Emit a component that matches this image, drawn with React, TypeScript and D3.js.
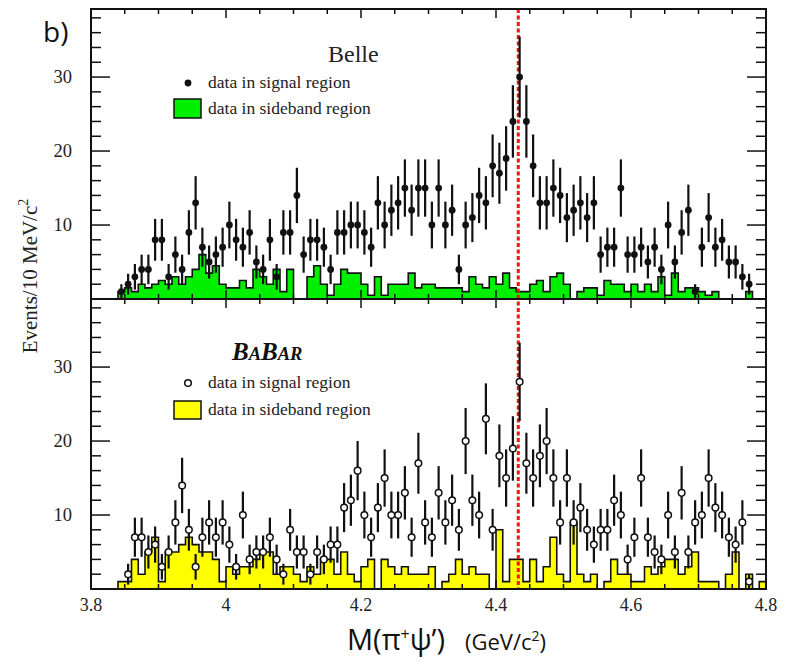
import * as d3 from "d3";
import React from "react";

// 10 MeV bins, bin i covers [3.80 + 0.01*i, 3.81 + 0.01*i)
const binStart = 3.8;
const binWidth = 0.01;

// Belle, events per bin in the signal region
const belleSignal = [
  0, 0, 0, 0, 1, 2, 3, 4, 4, 8,
  8, 3, 6, 4, 9, 13, 7, 5, 6, 7,
  10, 8, 7, 9, 5, 4, 8, 3, 9, 9,
  14, 6, 8, 8, 7, 4, 9, 9, 10, 10,
  9, 7, 13, 10, 12, 13, 15, 12, 15, 15,
  10, 15, 10, 12, 4, 10, 11, 14, 13, 18,
  17, 19, 24, 30, 24, 18, 13, 13, 15, 14,
  11, 12, 13, 11, 13, 6, 7, 7, 15, 6,
  6, 7, 5, 7, 4, 10, 5, 9, 12, 1,
  7, 11, 7, 8, 5, 5, 3, 2, 0, 0,
];

// Belle sideband (scaled)
const belleSideband = [
  0, 0, 0, 0, 1, 1.5, 1, 2, 1.5, 2,
  2.5, 2, 3, 2, 3, 4, 6, 3.5, 4.5, 2,
  1.5, 1.5, 2.5, 1.5, 4, 3, 2, 4, 1, 4,
  0, 0, 3, 4.5, 2, 0.5, 2, 4, 3.5, 3.5,
  2, 0.5, 3, 0.5, 2, 2, 2, 3.5, 1.5, 2,
  2, 1.5, 1.5, 1.5, 1.5, 1, 3, 2, 1.5, 3,
  2, 3.5, 1.5, 1, 1, 2, 2.5, 1, 3, 3.5,
  2, 0, 1, 1.5, 1.5, 0.5, 2.5, 2, 2, 1,
  2, 1, 2, 1, 3, 0.5, 3.5, 1, 1.5, 1.5,
  1, 0.5, 1, 0, 0, 0, 0, 1, 0, 0,
];

// BaBar, events per bin in the signal region
const babarSignal = [
  0, 0, 0, 0, 0, 2, 7, 7, 5, 6,
  3, 5, 9, 14, 8, 3, 7, 9, 7, 9,
  6, 3, 10, 4, 5, 5, 7, 4, 2, 8,
  5, 5, 2, 5, 4, 6, 6, 11, 12, 16,
  10, 7, 11, 15, 10, 10, 13, 7, 17, 9,
  7, 13, 9, 12, 8, 20, 12, 10, 23, 8,
  18, 15, 19, 28, 17, 15, 18, 20, 15, 9,
  15, 9, 11, 8, 6, 8, 8, 12, 10, 4,
  7, 15, 7, 5, 4, 10, 5, 13, 5, 9,
  10, 15, 11, 10, 7, 6, 9, 1, 0, 0,
];

// BaBar sideband
const babarSideband = [
  0, 0, 0, 0, 1, 1, 4, 2, 5, 7,
  1, 5, 5, 6, 7, 6, 5, 5, 4, 1,
  3, 2, 3, 3, 4, 5, 5, 2, 3, 3,
  2, 1, 3, 2, 4, 4, 2, 5, 2, 1,
  3, 4, 0, 4, 3, 2, 3, 2, 2, 2,
  3, 0, 1, 2, 4, 2, 3, 2, 2, 0,
  8, 1, 4, 4, 1, 4, 1, 3, 7, 2,
  1, 9, 2, 1, 2, 0, 1, 4, 2, 2,
  1, 1, 3, 2, 3, 4, 4, 2, 3, 5,
  1, 1, 1, 0, 2, 5, 0, 2, 0, 1,
];

const xTicks = [3.8, 4.0, 4.2, 4.4, 4.6, 4.8];
const xTickLabels = ["3.8", "4", "4.2", "4.4", "4.6", "4.8"];
const yTicks = [10, 20, 30];
const zMass = 4.433; // red dashed line

const W = 789;
const H = 664;
const frame = { left: 91, right: 766, top: 9, mid: 299, bottom: 589 };
const serif = "'Liberation Serif', 'Times New Roman', serif";
const sans = "'Open Sans', 'Liberation Sans', sans-serif";

const App = (): React.ReactElement => {
  const chartRef = React.useRef<SVGSVGElement>(null);

  React.useEffect(() => {
    const svg = d3.select(chartRef.current);
    svg.selectAll("*").remove();

    const x = d3.scaleLinear().domain([3.8, 4.8]).range([frame.left, frame.right]);
    const yTop = d3.scaleLinear().domain([0, 39.2]).range([frame.mid, frame.top]);
    const yBot = d3.scaleLinear().domain([0, 39.2]).range([frame.bottom, frame.mid]);

    const drawHist = (y: d3.ScaleLinear<number, number>, values: number[], fill: string) => {
      const pts: [number, number][] = [[binStart, 0]];
      values.forEach((v, i) => {
        pts.push([binStart + i * binWidth, v]);
        pts.push([binStart + (i + 1) * binWidth, v]);
      });
      pts.push([binStart + values.length * binWidth, 0]);
      const line = d3
        .line<[number, number]>()
        .x((d) => x(d[0]))
        .y((d) => y(d[1]));
      svg
        .append("path")
        .attr("d", line(pts))
        .attr("fill", fill)
        .attr("stroke", "#111")
        .attr("stroke-width", 1.6);
    };

    const drawPoints = (y: d3.ScaleLinear<number, number>, values: number[], hollow: boolean) => {
      const pts = values
        .map((v, i) => ({ v, c: binStart + (i + 0.5) * binWidth }))
        .filter((d) => d.v > 0);
      const g = svg.append("g");
      g.selectAll("line")
        .data(pts)
        .join("line")
        .attr("x1", (d) => x(d.c))
        .attr("x2", (d) => x(d.c))
        .attr("y1", (d) => y(d.v - Math.sqrt(d.v)))
        .attr("y2", (d) => y(d.v + Math.sqrt(d.v)))
        .attr("stroke", "#111")
        .attr("stroke-width", 2.2);
      g.selectAll("circle")
        .data(pts)
        .join("circle")
        .attr("cx", (d) => x(d.c))
        .attr("cy", (d) => y(d.v))
        .attr("r", hollow ? 3.3 : 3.4)
        .attr("fill", hollow ? "#fff" : "#111")
        .attr("stroke", "#111")
        .attr("stroke-width", hollow ? 1.5 : 0);
    };

    // histograms
    drawHist(yTop, belleSideband, "#00f000");
    drawHist(yBot, babarSideband, "#ffff00");

    // red dashed line
    svg
      .append("line")
      .attr("x1", x(zMass))
      .attr("x2", x(zMass))
      .attr("y1", frame.top)
      .attr("y2", frame.bottom)
      .attr("stroke", "#ff1010")
      .attr("stroke-width", 3)
      .attr("stroke-dasharray", "4,2.5");

    drawPoints(yTop, belleSignal, false);
    drawPoints(yBot, babarSignal, true);

    // frames and ticks
    const axes = svg.append("g").attr("stroke", "#111");
    [
      { y: yTop, y0: frame.mid, y1: frame.top },
      { y: yBot, y0: frame.bottom, y1: frame.mid },
    ].forEach(({ y, y0, y1 }) => {
      axes
        .append("rect")
        .attr("x", frame.left)
        .attr("y", y1)
        .attr("width", frame.right - frame.left)
        .attr("height", y0 - y1)
        .attr("fill", "none")
        .attr("stroke-width", 2);
      d3.range(1, 20).forEach((i) => {
        const xv = x(3.8 + i * 0.05);
        const len = i % 4 === 0 ? 9 : 5;
        axes.append("line").attr("x1", xv).attr("x2", xv).attr("y1", y0).attr("y2", y0 - len).attr("stroke-width", 1.5);
        axes.append("line").attr("x1", xv).attr("x2", xv).attr("y1", y1).attr("y2", y1 + len).attr("stroke-width", 1.5);
      });
      d3.range(2, 40, 2).forEach((v) => {
        const yv = y(v);
        const len = v % 10 === 0 ? 19 : 10;
        axes.append("line").attr("x1", frame.left).attr("x2", frame.left + len).attr("y1", yv).attr("y2", yv).attr("stroke-width", 1.5);
        axes.append("line").attr("x1", frame.right).attr("x2", frame.right - len).attr("y1", yv).attr("y2", yv).attr("stroke-width", 1.5);
      });
      svg
        .append("g")
        .selectAll("text")
        .data(yTicks)
        .join("text")
        .attr("x", 72)
        .attr("y", (d) => y(d) + 6)
        .attr("text-anchor", "end")
        .attr("font-family", serif)
        .attr("font-size", 18.5)
        .attr("fill", "#222")
        .text((d) => d);
    });

    // x tick labels
    svg
      .append("g")
      .selectAll("text")
      .data(xTicks)
      .join("text")
      .attr("x", (d) => x(d))
      .attr("y", 611)
      .attr("text-anchor", "middle")
      .attr("font-family", serif)
      .attr("font-size", 18)
      .attr("fill", "#222")
      .text((_, i) => xTickLabels[i]);

    // legends
    const leg = svg.append("g").attr("font-family", serif).attr("font-size", 17.5).attr("fill", "#222");
    leg.append("text").attr("x", 328).attr("y", 62).attr("font-size", 24).text("Belle");
    leg.append("circle").attr("cx", 188).attr("cy", 83).attr("r", 3.4).attr("fill", "#111");
    leg.append("text").attr("x", 208).attr("y", 88).text("data in signal region");
    leg.append("rect").attr("x", 174).attr("y", 99).attr("width", 27).attr("height", 19).attr("fill", "#00f000").attr("stroke", "#111").attr("stroke-width", 1.5);
    leg.append("text").attr("x", 208).attr("y", 114).text("data in sideband region");

    const babar = leg
      .append("text")
      .attr("x", 232)
      .attr("y", 360)
      .attr("font-weight", "bold")
      .attr("font-style", "italic")
      .attr("fill", "#111");
    [["B", 25], ["A", 18.5], ["B", 25], ["AR", 18.5]].forEach(([s, fs]) => {
      babar.append("tspan").attr("font-size", fs as number).text(s as string);
    });
    leg.append("circle").attr("cx", 188).attr("cy", 383).attr("r", 3.3).attr("fill", "#fff").attr("stroke", "#111").attr("stroke-width", 1.5);
    leg.append("text").attr("x", 208).attr("y", 388).text("data in signal region");
    leg.append("rect").attr("x", 174).attr("y", 401).attr("width", 27).attr("height", 18).attr("fill", "#ffff00").attr("stroke", "#111").attr("stroke-width", 1.5);
    leg.append("text").attr("x", 208).attr("y", 415).text("data in sideband region");

    // y title
    const yt = svg
      .append("text")
      .attr("transform", "translate(37, 276) rotate(-90)")
      .attr("text-anchor", "middle")
      .attr("font-family", serif)
      .attr("font-size", 21)
      .attr("fill", "#222");
    yt.append("tspan").text("Events/10 MeV/c");
    yt.append("tspan").attr("font-size", 14).attr("dy", -9).text("2");

    // x title
    const xt = svg
      .append("text")
      .attr("x", 347)
      .attr("y", 650)
      .attr("font-family", sans)
      .attr("fill", "#111");
    xt.append("tspan").attr("font-size", 29).text("M(π");
    xt.append("tspan").attr("font-size", 16).attr("dy", -10).text("+");
    xt.append("tspan").attr("font-size", 29).attr("dy", 10).text("ψ’)");
    xt.append("tspan").attr("font-size", 22).attr("dx", 20).text("(GeV/c");
    xt.append("tspan").attr("font-size", 14).attr("dy", -9).text("2");
    xt.append("tspan").attr("font-size", 22).attr("dy", 9).text(")");

    // panel label
    svg
      .append("text")
      .attr("x", 43)
      .attr("y", 42)
      .attr("font-family", sans)
      .attr("font-size", 28)
      .attr("fill", "#111")
      .text("b)");
  }, []);

  return (
    <svg
      ref={chartRef}
      width={W}
      height={H}
      style={{ position: "absolute", left: 0, top: 0, background: "#fff" }}
    />
  );
};

export default App;
